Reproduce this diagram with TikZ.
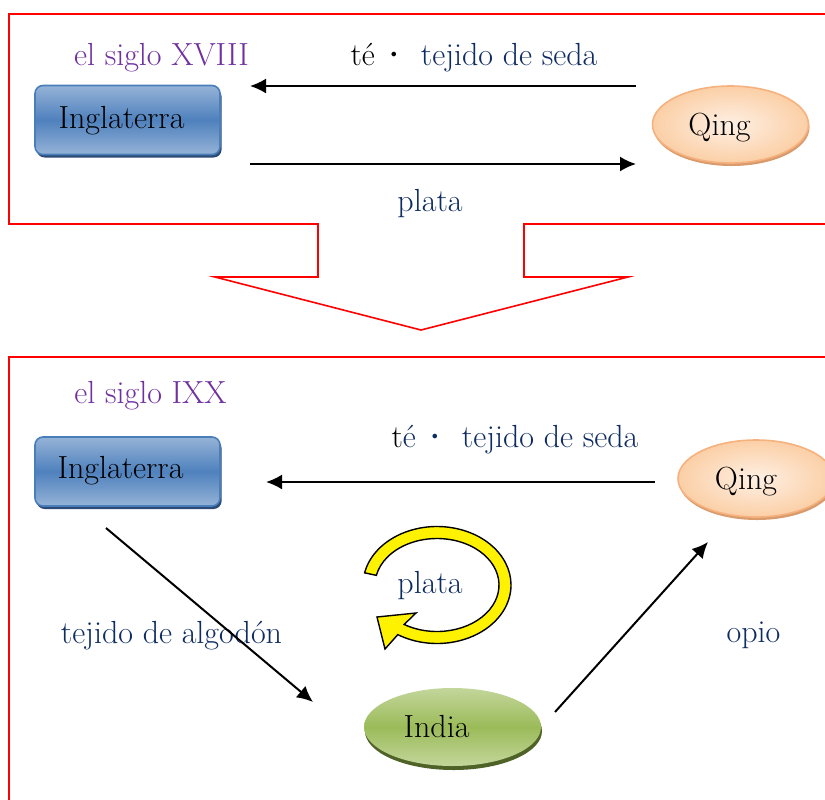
\documentclass[tikz,border=0pt]{standalone}
\usepackage{tikz}
\usetikzlibrary{shapes.geometric,shadows,arrows.meta,calc}
\definecolor{rojo}{RGB}{255,0,0}
\definecolor{morado}{HTML}{7030A0}
\definecolor{azul}{HTML}{0F2C62}
\definecolor{inglaClaro}{HTML}{95B3D7}
\definecolor{inglaOscuro}{HTML}{4F81BD}
\definecolor{inglaBorde}{HTML}{4A7EBB}
\definecolor{inglaSombra}{HTML}{2C4A75}
\definecolor{qingClaro}{HTML}{FEF0E4}
\definecolor{qingOscuro}{HTML}{FBCFA6}
\definecolor{qingBorde}{HTML}{F5B27F}
\definecolor{qingSombra}{HTML}{D99A6C}
\definecolor{indiaClaro}{HTML}{C3D69B}
\definecolor{indiaOscuro}{HTML}{9BBB59}
\definecolor{indiaSombra}{HTML}{4F6228}

\begin{document}
\begin{tikzpicture}[x=0.5pt,y=-0.5pt,
  every node/.style={font=\fontsize{16}{19}\selectfont},
  marco/.style={draw=rojo, line width=0.8pt},
  flecha/.style={-{Latex[length=8pt,width=7.5pt]}, line width=1pt},
  anio/.style={anchor=base, text=morado},
  rotulo/.style={anchor=base, text=azul},
  inglaterra/.style={rectangle, rounded corners=4pt, minimum width=92.5pt,
    minimum height=34.5pt, draw=inglaBorde, line width=0.8pt,
    top color=inglaClaro, bottom color=inglaClaro, middle color=inglaOscuro,
    drop shadow={shadow xshift=0.8pt, shadow yshift=-1.5pt, fill=inglaSombra, opacity=1}},
  qing/.style={ellipse, minimum width=78pt, minimum height=38.5pt,
    draw=qingBorde, line width=0.8pt, inner color=qingClaro, outer color=qingOscuro,
    drop shadow={shadow xshift=0.5pt, shadow yshift=-1.5pt, fill=qingSombra, opacity=1}},
  india/.style={ellipse, minimum width=88.5pt, minimum height=39pt,
    top color=indiaClaro, bottom color=indiaClaro, middle color=indiaOscuro,
    drop shadow={shadow xshift=0.5pt, shadow yshift=-2pt, fill=indiaSombra, opacity=1}},
  ciclo/.style={fill=yellow, draw=black, line width=0.7pt}]

  \useasboundingbox (0,0) rectangle (825,799);
  \clip (0,0) rectangle (825,799);

  % Marcos.
  \draw[marco] (830,14) -- (9,14) -- (9,224) -- (318,224) -- (318,277)
    -- (215,277) -- (421,330) -- (628,277) -- (524,277) -- (524,224) -- (830,224);
  \draw[marco] (830,357) -- (9,357) -- (9,805);

  % Siglo XVIII.
  \node[anio] (siglo1) at (161.5,65) {el siglo XVIII};
  \node[inglaterra, label={[xshift=-3pt, yshift=-0.5pt]center:Inglaterra}] (ingla1) at (127.5,120) {};
  \node[qing, label={[xshift=-5.5pt, yshift=-1.5pt]center:Qing}] (qing1) at (730.5,124.5) {};
  \node[rotulo] (seda1) at (474,65) {{\color{black}té\kern2.5pt{\bfseries·}}\kern6.5pt tejido de seda};
  \node[rotulo] (plata1) at (430,211) {plata};
  \coordinate (seda1ini) at (636,86);
  \coordinate (seda1fin) at (250,86);
  \coordinate (plata1ini) at (250,164);
  \coordinate (plata1fin) at (636,164);
  \draw[flecha] (seda1ini) -- (seda1fin);
  \draw[flecha] (plata1ini) -- (plata1fin);

  % Siglo IXX.
  \node[anio] (siglo2) at (150.5,403) {el siglo IXX};
  \node[inglaterra, label={[xshift=-3.5pt, yshift=0.5pt]center:Inglaterra}] (ingla2) at (127.5,471.5) {};
  \node[qing, label={[xshift=-5pt, yshift=-1.5pt]center:Qing}] (qing2) at (756,478.5) {};
  \node[india, label={[xshift=-8pt]center:India}] (india) at (452.5,727) {};
  \node[rotulo] (seda2) at (515,447) {{\color{black}t}é\kern2.5pt{\bfseries·}\kern6.5pt tejido de seda};
  \node[rotulo] (algodon) at (171.5,643) {tejido de algodón};
  \node[rotulo] (opio) at (753.5,642) {opio};
  \coordinate (seda2ini) at (655,482);
  \coordinate (seda2fin) at (266,482);
  \coordinate (algodonini) at (106,528);
  \coordinate (algodonfin) at (313,702);
  \coordinate (opioini) at (555,712);
  \coordinate (opiofin) at (708,542);
  \draw[flecha] (seda2ini) -- (seda2fin);
  \draw[flecha] (algodonini) -- (algodonfin);
  \draw[flecha] (opioini) -- (opiofin);

  % Plata.
  \coordinate (centro) at (437,585);
  \draw[ciclo] ($(centro)+(192:74 and 58.5)$)
    arc[start angle=192, end angle=482, x radius=74, y radius=58.5]
    -- (385,649) -- (377,617) -- (416,613)
    -- ($(centro)+(482:62 and 46.5)$)
    arc[start angle=482, end angle=192, x radius=62, y radius=46.5] -- cycle;
  \node[rotulo] (plata2) at (430,593) {plata};
\end{tikzpicture}
\end{document}
